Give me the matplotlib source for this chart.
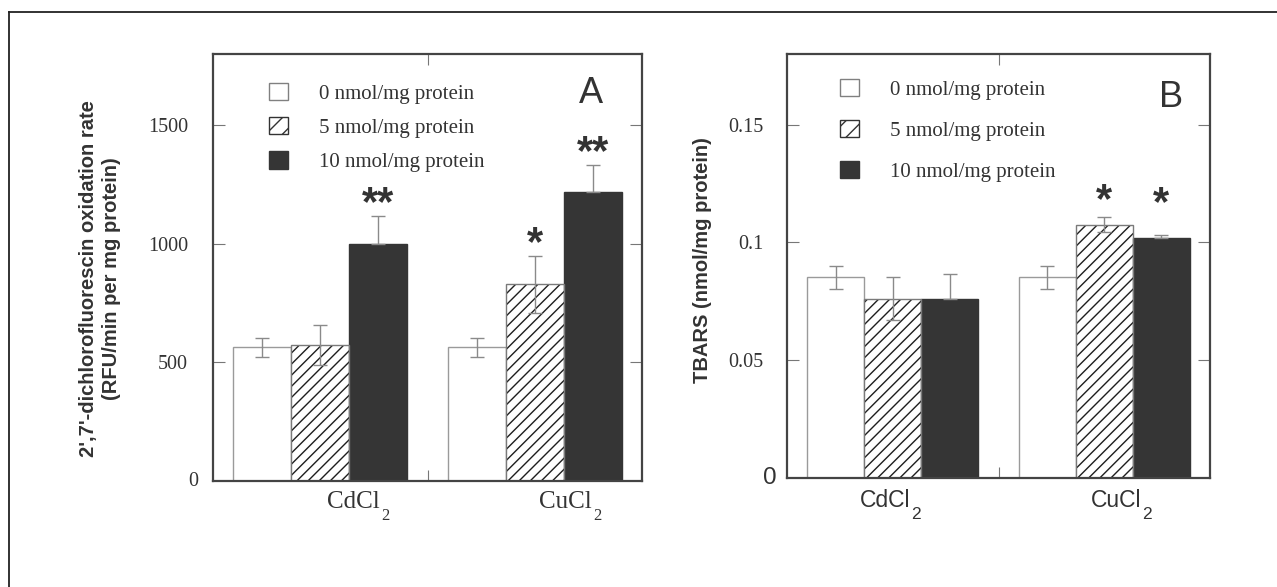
import matplotlib
matplotlib.use("Agg")
import matplotlib.pyplot as plt
from matplotlib.patches import Patch
from matplotlib.lines import Line2D
import numpy as np

# ---------------- data ----------------
categories = ["CdCl", "CuCl"]          # subscript "2" added when drawing
subscript = "2"
dose_labels = ["0 nmol/mg protein", "5 nmol/mg protein", "10 nmol/mg protein"]

# Panel A: DCF oxidation rate (RFU/min per mg protein)
dcf_0 = [564, 564]
dcf_0_err = [40, 40]
dcf_5 = [572, 829]
dcf_5_err = [85, 119]
dcf_10 = [1000, 1220]
dcf_10_err = [117, 112]
dcf_sig_5 = ["", "*"]
dcf_sig_10 = ["**", "**"]

# Panel B: TBARS (nmol/mg protein)
tbars_0 = [0.0852, 0.0852]
tbars_0_err = [0.005, 0.005]
tbars_5 = [0.0762, 0.1076]
tbars_5_err = [0.009, 0.003]
tbars_10 = [0.0762, 0.1018]
tbars_10_err = [0.0103, 0.0014]
tbars_sig_5 = ["", "*"]
tbars_sig_10 = ["", "*"]

dcf_ticks = [500, 1000, 1500]
dcf_ticklabels = ["500", "1000", "1500"]
tbars_ticks = [0.05, 0.1, 0.15]
tbars_ticklabels = ["0.05", "0.1", "0.15"]

SERIF = "Liberation Serif"
SANS = "Liberation Sans"
TXT = "#333333"
SPINE = "#444444"
EDGE_W = "#9a9a9a"
EDGE_H = "#7a7a7a"
BLACK = "#353535"
ERR = "#8a8a8a"

fig = plt.figure(figsize=(12.77, 5.87), dpi=100)

# outer frame (only top and left edges visible in the reference)
fig.add_artist(Line2D([9/1277, 9/1277], [1 - 12/587, -0.05], transform=fig.transFigure,
                      color="#222222", lw=1.3))
fig.add_artist(Line2D([9/1277, 1.05], [1 - 12/587, 1 - 12/587], transform=fig.transFigure,
                      color="#222222", lw=1.3))

axA = fig.add_axes([213/1277, 1 - 481/587, 429/1277, 427/587])
axB = fig.add_axes([787/1277, 1 - 478/587, 423/1277, 424/587])

x = np.arange(1, len(categories) + 1)
w = 0.27
STAR_SIZE = 30


def draw_panel(ax, v0, e0, v5, e5, v10, e10, sig5, sig10, ylim, sig_off5, sig_off10):
    ax.bar(x - w, v0, w, color="white", edgecolor=EDGE_W, lw=1.0, zorder=2)
    ax.bar(x, v5, w, color="white", edgecolor="#1e1e1e", hatch="///", lw=0, zorder=2)
    ax.bar(x, v5, w, color="none", edgecolor=EDGE_H, lw=1.0, zorder=2.1)
    ax.bar(x + w, v10, w, color=BLACK, edgecolor=BLACK, lw=1.0, zorder=2)
    ek = dict(fmt="none", ecolor=ERR, elinewidth=1.0, capsize=5, capthick=1.0, zorder=3)
    ax.errorbar(x - w, v0, yerr=e0, **ek)
    ax.errorbar(x, v5, yerr=e5, **ek)
    ax.errorbar(x + w, v10, yerr=[np.zeros(len(e10)), e10], **ek)
    for i in range(len(x)):
        if sig5[i]:
            ax.annotate(sig5[i], xy=(x[i], v5[i] + e5[i]), xytext=(0, sig_off5),
                        textcoords="offset points", ha="center", va="baseline",
                        fontsize=STAR_SIZE, fontfamily=SANS, fontweight="bold", color=TXT)
        if sig10[i]:
            ax.annotate(sig10[i], xy=(x[i] + w, v10[i] + e10[i]), xytext=(0, sig_off10),
                        textcoords="offset points", ha="center", va="baseline",
                        fontsize=STAR_SIZE, fontfamily=SANS, fontweight="bold", color=TXT)
    ax.set_xlim(0.5, 2.5)
    ax.set_ylim(*ylim)
    for s in ax.spines.values():
        s.set_color(SPINE)
        s.set_linewidth(1.6)
    ax.set_xticks([1.5])
    ax.set_xticklabels([""])
    ax.tick_params(axis="x", direction="in", length=8, width=0.8, color="#777777",
                   top=True, bottom=True)
    ax.tick_params(axis="y", direction="in", length=8.5, width=0.8, color="#777777",
                   left=True, right=True, labelcolor=TXT)


# ---------------- Panel A ----------------
draw_panel(axA, dcf_0, dcf_0_err, dcf_5, dcf_5_err, dcf_10, dcf_10_err,
           dcf_sig_5, dcf_sig_10, (0, 1800), 1, 1)
axA.set_yticks(dcf_ticks)
axA.set_yticklabels(dcf_ticklabels, fontfamily=SERIF, fontsize=14.5)
axA.tick_params(axis="y", pad=18)
axA.text(-15/429, 0, "0", transform=axA.get_yaxis_transform(), ha="right", va="center",
         fontfamily=SERIF, fontsize=14.5, color=TXT)
axA.set_ylabel("2',7'-dichlorofluorescin oxidation rate\n(RFU/min per mg protein)",
               fontfamily=SANS, fontweight="bold", fontsize=14.5, color=TXT, linespacing=1.3)
axA.yaxis.label.set(ha="center", va="center")
axA.yaxis.set_label_coords(-0.263, 0.474)
axA.text(0.88, 1635, "A", transform=axA.get_yaxis_transform(), ha="center", va="center",
         fontfamily=SANS, fontsize=26, color=TXT)
for xc, lab in zip([1.153, 2.141], categories):
    t = axA.text(xc, -0.049, lab, transform=axA.get_xaxis_transform(), ha="center",
                 va="center", fontfamily=SERIF, fontsize=18, color=TXT)
    axA.annotate(subscript, xy=(1, 0), xycoords=t, xytext=(1.0, -2.5),
                 textcoords="offset points", ha="left", va="center",
                 fontfamily=SERIF, fontsize=12, color=TXT)

# ---------------- Panel B ----------------
draw_panel(axB, tbars_0, tbars_0_err, tbars_5, tbars_5_err, tbars_10, tbars_10_err,
           tbars_sig_5, tbars_sig_10, (0, 0.18), 3.9, 14)
axB.set_yticks(tbars_ticks)
axB.set_yticklabels(tbars_ticklabels, fontfamily=SERIF, fontsize=14.5)
axB.tick_params(axis="y", pad=17)
axB.text(-10/423, 0, "0", transform=axB.get_yaxis_transform(), ha="right", va="center",
         fontfamily=SANS, fontsize=17.5, color=TXT)
axB.set_ylabel("TBARS (nmol/mg protein)", fontfamily=SANS, fontweight="bold",
               fontsize=14.5, color=TXT)
axB.yaxis.label.set(ha="center", va="center")
axB.yaxis.set_label_coords(-0.199, 0.514)
axB.text((1171 - 787)/423, 0.1615, "B", transform=axB.get_yaxis_transform(), ha="center",
         va="center", fontfamily=SANS, fontsize=26, color=TXT)
for xc, lab in zip([0.966, 2.058], categories):
    t = axB.text(xc, -0.0535, lab, transform=axB.get_xaxis_transform(), ha="center",
                 va="center", fontfamily=SANS, fontsize=16.5, color=TXT)
    axB.annotate(subscript, xy=(1, 0), xycoords=t, xytext=(0.5, -1.5),
                 textcoords="offset points", ha="left", va="center",
                 fontfamily=SANS, fontsize=12.5, color=TXT)

# ---------------- legends ----------------
def handles():
    return [Patch(facecolor="white", edgecolor="#808080", lw=1.0),
            Patch(facecolor="white", edgecolor="#333333", hatch="//", lw=1.0),
            Patch(facecolor=BLACK, edgecolor=BLACK, lw=1.0)]


for ax, anchor, spacing in [(axA, ((269 - 213)/429, (481 - 83)/427), 0.64),
                            (axB, ((840 - 787)/423, (478 - 79)/424), 0.97)]:
    leg = ax.legend(handles(), dose_labels, loc="upper left", bbox_to_anchor=anchor,
                    frameon=False, borderpad=0, borderaxespad=0,
                    handlelength=0.9, handleheight=0.9, handletextpad=1.5,
                    labelspacing=spacing,
                    prop={"family": SERIF, "size": 15})
    for txt in leg.get_texts():
        txt.set_color(TXT)

fig.savefig("out.png", dpi=100)
